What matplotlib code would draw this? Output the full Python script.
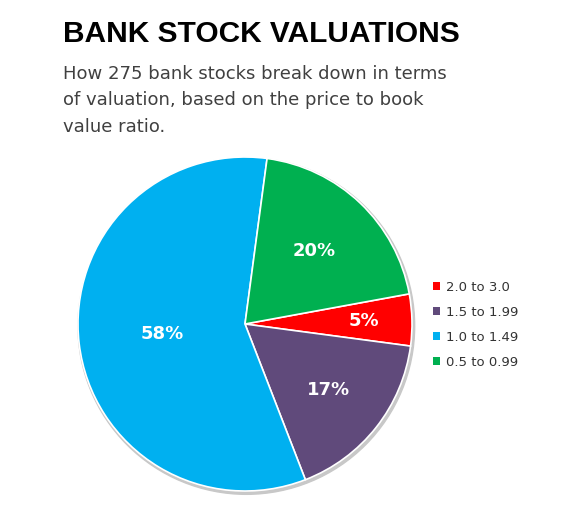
import matplotlib
matplotlib.use('Agg')
import numpy as np
import matplotlib.pyplot as plt
from matplotlib.patches import Circle, Patch

categories = ['2.0 to 3.0', '1.5 to 1.99', '1.0 to 1.49', '0.5 to 0.99']
shares = [5, 17, 58, 20]
colors = ['#FF0000', '#604A7B', '#00B0F0', '#00B050']
label_dist = [0.71, 0.64, 0.50, 0.60]

W, H = 580, 509
fig = plt.figure(figsize=(W / 100, H / 100), dpi=100)

# pie axes: center (245, 324) px, radius 167 px
cx, cy, r = 245, 324, 167
lim = 1.06
half = r * lim
ax = fig.add_axes([(cx - half) / W, (H - cy - half) / H, 2 * half / W, 2 * half / H])

ax.add_patch(Circle((0.008, -0.012), 1.008, color='#c8c8c8', zorder=0))
wedges, _ = ax.pie(shares, colors=colors, startangle=10.4, counterclock=False,
                   wedgeprops=dict(edgecolor='white', linewidth=1.2))
for w in wedges:
    w.set_zorder(1)

for w, s, d in zip(wedges, shares, label_dist):
    mid = np.deg2rad((w.theta1 + w.theta2) / 2)
    ax.text(d * np.cos(mid), d * np.sin(mid), '%d%%' % s, color='white',
            fontsize=13, fontweight='bold', ha='center', va='center', zorder=3)

ax.set_xlim(-lim, lim)
ax.set_ylim(-lim, lim)
ax.set_aspect('equal')
ax.axis('off')

handles = [Patch(facecolor=c) for c in colors]
fig.legend(handles, categories, loc='upper left', bbox_to_anchor=(421 / W, 1 - 269 / H),
           frameon=False, fontsize=9.5, handlelength=0.55, handleheight=0.55,
           handletextpad=0.45, labelspacing=0.9, labelcolor='#333333')

fig.text(63 / W, 1 - 34 / H, 'BANK STOCK VALUATIONS', fontsize=21.5, fontweight='bold',
         family='Liberation Sans', va='center', ha='left', color='black')
fig.text(63 / W, 1 - 65 / H,
         'How 275 bank stocks break down in terms\nof valuation, based on the price to book\nvalue ratio.',
         fontsize=13, va='top', ha='left', color='#404040', linespacing=1.6)

fig.savefig('out.png', dpi=100)
